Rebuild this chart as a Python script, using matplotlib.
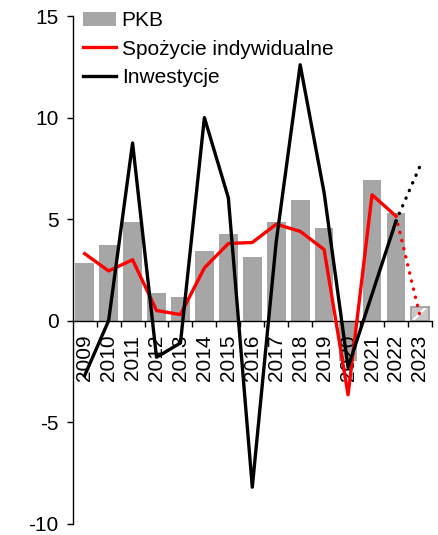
import matplotlib
matplotlib.use("Agg")
import matplotlib.pyplot as plt
import numpy as np

years = ["2009", "2010", "2011", "2012", "2013", "2014", "2015", "2016",
         "2017", "2018", "2019", "2020", "2021", "2022", "2023"]
pkb = [2.85, 3.75, 4.85, 1.35, 1.15, 3.45, 4.25, 3.15, 4.85, 5.95, 4.55, -2.0, 6.95, 5.3, 0.65]
spozycie = [3.3, 2.45, 3.0, 0.5, 0.3, 2.6, 3.8, 3.85, 4.75, 4.4, 3.5, -3.65, 6.2, 5.15, 0.25]
inwestycje = [-2.7, 0.0, 8.75, -1.8, -1.1, 10.0, 6.05, -8.2, 3.9, 12.6, 6.3, -2.3, 1.3, 4.9, 7.6]
yticks = [-10, -5, 0, 5, 10, 15]

plt.rcParams['font.family'] = ['Liberation Sans', 'DejaVu Sans']
plt.rcParams['hatch.linewidth'] = 1.5
fig = plt.figure(figsize=(4.38, 5.35), dpi=100)
ax = fig.add_axes([0.166, 0.021, 0.820, 0.949])
ax.set_axisbelow(False)

x = np.arange(len(years))
gray = '#a6a6a6'
red = '#ff0000'
fs = 15

hb = ax.bar(x[:-1], pkb[:-1], width=0.78, color=gray, label='PKB', zorder=2)
ax.bar(x[-1:], pkb[-1:], width=0.78, color='#c8c8c8', hatch='/', edgecolor='white',
       linewidth=0, zorder=2)
ax.bar(x[-1:], pkb[-1:], width=0.78, facecolor='none', edgecolor=gray,
       linewidth=1.5, zorder=2)

lw = 2.4
hs, = ax.plot(x[:-1], spozycie[:-1], color=red, lw=lw, label='Spożycie indywidualne', zorder=3)
ax.plot(x[-2:], spozycie[-2:], color=red, lw=lw, linestyle=(0, (0.1, 2.4)),
        dash_capstyle='round', zorder=3)
hi, = ax.plot(x[:-1], inwestycje[:-1], color='black', lw=lw, label='Inwestycje', zorder=4)
ax.plot(x[-2:], inwestycje[-2:], color='black', lw=lw, linestyle=(0, (0.1, 2.4)),
        dash_capstyle='round', zorder=4)

ax.set_xlim(-0.5, len(years) - 0.5)
ax.set_ylim(-10, 15)
ax.set_yticks(yticks)
ax.set_yticklabels([str(v) for v in yticks])

ax.spines['top'].set_visible(False)
ax.spines['right'].set_visible(False)
ax.spines['bottom'].set_position(('data', 0))
ax.spines['left'].set_linewidth(1.0)
ax.spines['bottom'].set_linewidth(1.0)

ax.set_xticks(np.arange(0.5, len(years), 1.0))
ax.set_xticklabels([])
ax.set_xticks(x, minor=True)
ax.set_xticklabels(years, minor=True, rotation=90, fontsize=fs, va='top')
ax.tick_params(axis='x', which='major', direction='out', length=4, width=1)
ax.tick_params(axis='x', which='minor', length=0, pad=10)
ax.tick_params(axis='y', direction='out', length=4, width=1, labelsize=fs, pad=6)

leg = ax.legend(handles=[hb, hs, hi], loc='upper left', bbox_to_anchor=(0.0, 1.03),
                frameon=False, fontsize=fs, handlelength=1.6, handletextpad=0.25,
                labelspacing=0.45, borderaxespad=0.1)

fig.savefig('out.png', dpi=100)
